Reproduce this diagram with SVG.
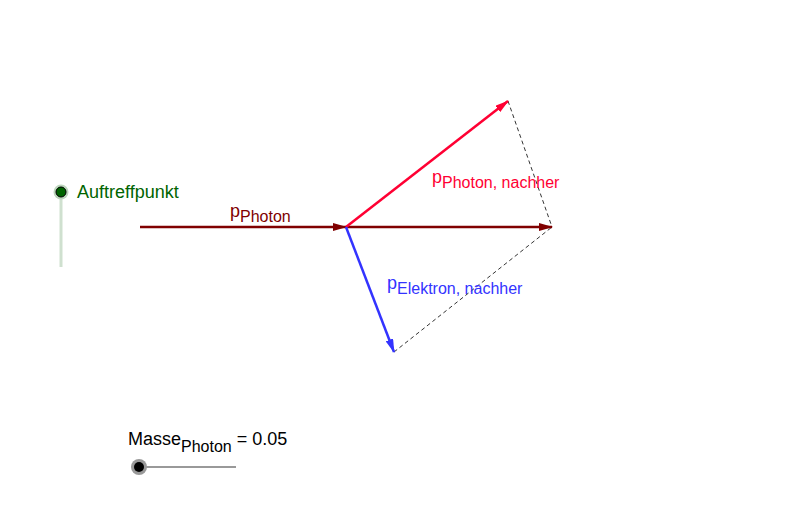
<svg xmlns="http://www.w3.org/2000/svg" width="800" height="530" viewBox="0 0 800 530">
<style>
text{font-family:"Liberation Sans",Arial,sans-serif;font-size:18px}
.sub{font-size:16px}
</style>
<defs>
<marker id="aBrown" markerWidth="14" markerHeight="8" refX="13" refY="4" orient="auto" markerUnits="userSpaceOnUse"><path d="M0,0 L14,4 L0,8 Z" fill="#800000"/></marker>
<marker id="aRed" markerWidth="14" markerHeight="8" refX="13" refY="4" orient="auto" markerUnits="userSpaceOnUse"><path d="M0,0 L14,4 L0,8 Z" fill="#ff0033"/></marker>
<marker id="aBlue" markerWidth="14" markerHeight="8" refX="13" refY="4" orient="auto" markerUnits="userSpaceOnUse"><path d="M0,0 L14,4 L0,8 Z" fill="#3333ff"/></marker>
</defs>
<rect width="800" height="530" fill="#fff"/>
<g id="connectors">
<line x1="508" y1="101" x2="552" y2="227" stroke="#000" stroke-dasharray="4,3" stroke-width="0.8"/>
<line x1="394" y1="352" x2="552" y2="227" stroke="#000" stroke-dasharray="4,3" stroke-width="0.8"/>
<line x1="140" y1="227" x2="346" y2="227" stroke="#800000" stroke-width="2.5" marker-end="url(#aBrown)"/>
<line x1="346" y1="227" x2="552" y2="227" stroke="#800000" stroke-width="2.5" marker-end="url(#aBrown)"/>
<line x1="346" y1="227" x2="508" y2="101" stroke="#ff0033" stroke-width="2.5" marker-end="url(#aRed)"/>
<line x1="346" y1="227" x2="394" y2="352" stroke="#3333ff" stroke-width="2.5" marker-end="url(#aBlue)"/>
</g>
<g id="labels">
<text x="230" y="217" fill="#800000">p<tspan class="sub" dy="5">Photon</tspan></text>
<text x="432" y="183" fill="#ff0033">p<tspan class="sub" dy="5">Photon, nachher</tspan></text>
<text x="387" y="289" fill="#3333ff">p<tspan class="sub" dy="5">Elektron, nachher</tspan></text>
</g>
<g id="auftreffpunkt">
<line x1="61" y1="192" x2="61" y2="267" stroke="#cfe0cf" stroke-width="3"/>
<circle cx="61" cy="192" r="7.5" fill="#bdd6bd"/>
<circle cx="61" cy="192" r="5" fill="#006400" stroke="#000" stroke-width="1"/>
<text x="77" y="198" fill="#006400">Auftreffpunkt</text>
</g>
<g id="slider">
<text x="128" y="445" fill="#000">Masse<tspan class="sub" dy="7">Photon</tspan><tspan dy="-7"> = 0.05</tspan></text>
<line x1="139" y1="467" x2="236" y2="467" stroke="#999" stroke-width="2"/>
<circle cx="139" cy="467" r="8" fill="#999"/>
<circle cx="139" cy="467" r="5" fill="#000"/>
</g>
</svg>
